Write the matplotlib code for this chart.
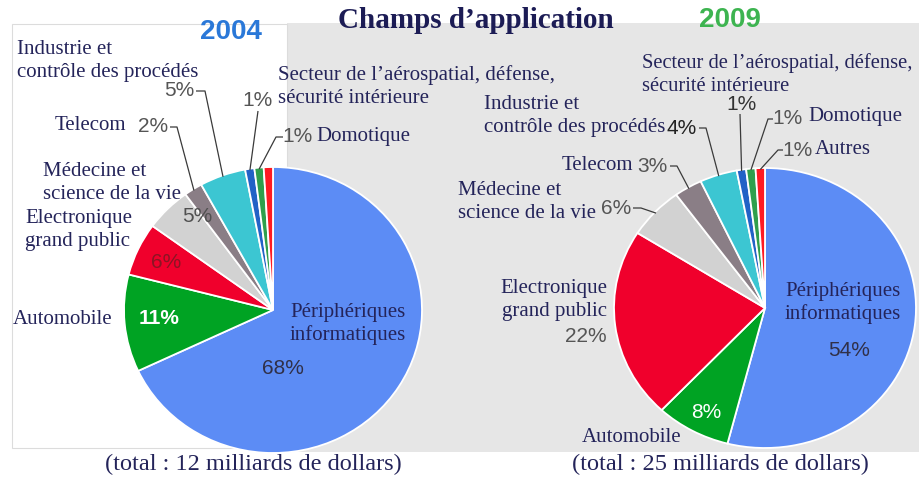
import numpy as np
import matplotlib
matplotlib.use("Agg")
import matplotlib.pyplot as plt
from matplotlib.patches import Rectangle

# ---------------- data ----------------
title = "Champs d\u2019application"
years = ["2004", "2009"]
categories = ["P\u00e9riph\u00e9riques\ninformatiques", "Automobile",
              "Electronique\ngrand public", "M\u00e9decine et\nscience de la vie",
              "Telecom", "Industrie et\ncontr\u00f4le des proc\u00e9d\u00e9s",
              "Secteur de l\u2019a\u00e9rospatial, d\u00e9fense,\ns\u00e9curit\u00e9 int\u00e9rieure",
              "Domotique", "Autres"]
values_2004 = [68, 11, 6, 5, 2, 5, 1, 1, 1]
values_2009 = [54, 8, 22, 6, 3, 4, 1, 1, 1]
totals = ["(total : 12 milliards de dollars)", "(total : 25 milliards de dollars)"]
slice_colors = ["#5c8cf5", "#00a323", "#f0002c", "#d2d2d2", "#8a7e86",
                "#3cc6d2", "#2262c6", "#2f9f4c", "#ff1a22"]

# ---------------- style ----------------
W, H = 919, 480
SERIF = "Liberation Serif"
SANS = "Liberation Sans"
NAVY = "#24245a"
PCT = "#555555"
LINE = "#3a3a3a"
LBL = 15
PCTS = 15
LSTEP = 23

fig = plt.figure(figsize=(W / 100, H / 100), dpi=100)

bg = fig.add_axes([0, 0, 1, 1])
bg.set_xlim(0, W); bg.set_ylim(H, 0); bg.axis("off")
bg.add_patch(Rectangle((287, 23), 632, 429, facecolor="#e6e6e6", edgecolor="none"))
bg.add_patch(Rectangle((12, 24), 275, 424, facecolor="white", edgecolor="#dcdcdc", lw=0.8))


def pie_axes(cx, cy, rx, ry, vals):
    ax = fig.add_axes([(cx - rx) / W, (H - cy - ry) / H, 2 * rx / W, 2 * ry / H])
    wedges, _ = ax.pie(vals, colors=slice_colors, startangle=90, counterclock=False,
                       radius=1.0, wedgeprops=dict(edgecolor="white", linewidth=1.3))
    ax.set_aspect("auto")
    ax.set_xlim(-1, 1); ax.set_ylim(-1, 1)
    ax.axis("off")
    return ax, wedges


ax1, w1 = pie_axes(273, 310, 149, 143, values_2004)
ax2, w2 = pie_axes(765, 308, 151, 140, values_2009)

ov = fig.add_axes([0, 0, 1, 1])
ov.set_xlim(0, W); ov.set_ylim(H, 0); ov.axis("off")
ov.patch.set_alpha(0)


def wpoint(ax, wedge, frac=0.5, r=0.99):
    th = np.deg2rad(wedge.theta1 + frac * (wedge.theta2 - wedge.theta1))
    d = ax.transData.transform((r * np.cos(th), r * np.sin(th)))
    return ov.transData.inverted().transform(d)


def leader(ax, wedge, pts, frac=0.5):
    p = wpoint(ax, wedge, frac)
    xs = [q[0] for q in pts] + [p[0]]
    ys = [q[1] for q in pts] + [p[1]]
    ov.plot(xs, ys, color=LINE, lw=0.9, solid_capstyle="butt")


def lab(x, y, s, ha="left", size=LBL, color=NAVY):
    lines = s.split("\n")
    y0 = y - (len(lines) - 1) * LSTEP / 2
    for i, line in enumerate(lines):
        ov.text(x, y0 + i * LSTEP, line, ha=ha, va="center", fontsize=size,
                family=SERIF, color=color)


def pct(x, y, v, ha="center", color=PCT, size=PCTS, weight="normal"):
    ov.text(x, y, f"{v}%", ha=ha, va="center", fontsize=size, family=SANS,
            color=color, fontweight=weight)


# title / years / totals
ov.text(476, 20, title, ha="center", va="center", fontsize=21, family=SERIF,
        color="#1c1c55", fontweight="bold")
ov.text(231, 32, years[0], ha="center", va="center", fontsize=20, family=SANS,
        fontweight="bold", color="#2a78d8")
ov.text(730, 20, years[1], ha="center", va="center", fontsize=20, family=SANS,
        fontweight="bold", color="#3db450")
ov.text(253, 464, totals[0], ha="center", va="center", fontsize=17.5, family=SERIF,
        color=NAVY)
ov.text(720, 464, totals[1], ha="center", va="center", fontsize=17.5, family=SERIF,
        color=NAVY)

# ---------- 2004 ----------
v = values_2004
lab(17, 61, categories[5])
pct(179, 91, v[5]); leader(ax1, w1[5], [(196, 91), (205, 91)])
lab(278, 87, categories[6])
pct(258, 101, v[6]); leader(ax1, w1[6], [(258, 111)])
pct(298, 137, v[7]); lab(316, 137, categories[7]); leader(ax1, w1[7], [(283, 137), (276, 137)])
lab(55, 126, categories[4])
pct(153, 127, v[4]); leader(ax1, w1[4], [(170, 127), (177, 127)])
lab(43, 183, categories[3])
pct(197, 217, v[3], color="#505050")
lab(25, 230, categories[2])
pct(166, 262, v[2], color="#8c1424")
lab(13, 320, categories[1])
pct(159, 318, v[1], color="white", weight="bold")
lab(348, 324, categories[0], ha="center")
pct(283, 368, v[0], color="#303048")

# ---------- 2009 ----------
v = values_2009
lab(642, 75, categories[6], size=14.8)
pct(742, 104, v[6], color="#333333"); leader(ax2, w2[6], [(740, 114)])
pct(788, 119, v[7]); lab(808, 116, categories[7]); leader(ax2, w2[7], [(773, 119), (768, 119)])
pct(798, 150, v[8]); lab(815, 150, categories[8]); leader(ax2, w2[8], [(783, 150), (778, 150)])
lab(484, 116, categories[5])
pct(682, 128, v[5], color="#222222"); leader(ax2, w2[5], [(699, 128), (706, 128)])
lab(562, 165, categories[4])
pct(652, 166, v[4]); leader(ax2, w2[4], [(670, 166), (677, 166)])
lab(458, 202, categories[3])
pct(616, 208, v[3]); leader(ax2, w2[3], [(633, 208), (641, 208)])
lab(607, 300, categories[2], ha="right")
pct(607, 336, v[2], ha="right")
pct(706, 412, v[1], color="white")
lab(632, 438, categories[1], ha="center")
lab(843, 303, categories[0], ha="center")
pct(849, 350, v[0], color="#303048")

fig.savefig("out.png", dpi=100)
